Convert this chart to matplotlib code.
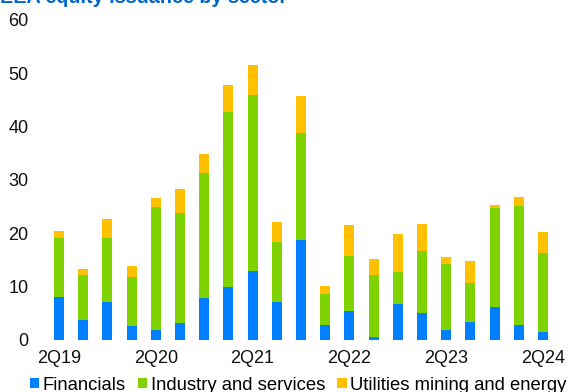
import matplotlib
matplotlib.use("Agg")
import matplotlib.pyplot as plt
import numpy as np

plt.rcParams['font.family'] = ['Liberation Sans', 'DejaVu Sans']

# quarters 2Q19 .. 2Q24
quarters = ['2Q19', '3Q19', '4Q19', '1Q20', '2Q20', '3Q20', '4Q20', '1Q21', '2Q21', '3Q21',
            '4Q21', '1Q22', '2Q22', '3Q22', '4Q22', '1Q23', '2Q23', '3Q23', '4Q23', '1Q24', '2Q24']
financials = [8.1, 3.7, 7.2, 2.6, 1.9, 3.2, 7.9, 10.0, 13.0, 7.2,
              18.8, 2.75, 5.5, 0.6, 6.75, 5.1, 1.9, 3.4, 6.25, 2.9, 1.5]
industry = [11.1, 8.4, 12.0, 9.2, 23.1, 20.7, 23.35, 32.7, 33.0, 11.2,
            19.95, 5.95, 10.3, 11.6, 6.05, 11.5, 12.4, 7.35, 18.55, 22.3, 14.9]
utilities = [1.3, 1.15, 3.4, 2.1, 1.6, 4.5, 3.65, 5.1, 5.6, 3.7,
             6.95, 1.4, 5.8, 3.05, 7.1, 5.15, 1.3, 4.15, 0.6, 1.7, 3.8]

c_fin = '#0080FF'
c_ind = '#7ED200'
c_util = '#FFC000'

fig = plt.figure(figsize=(5.76, 3.92), dpi=100)
W, H = 576, 392
ax = fig.add_axes([39.6 / W, 52 / H, (562.3 - 39.6) / W, 320 / H])

x = np.arange(len(quarters))
fin = np.array(financials)
ind = np.array(industry)
util = np.array(utilities)
bw = 0.41
ax.bar(x, fin, bw, color=c_fin, label='Financials')
ax.bar(x, ind, bw, bottom=fin, color=c_ind, label='Industry and services')
ax.bar(x, util, bw, bottom=fin + ind, color=c_util, label='Utilities mining and energy')

ax.set_xlim(-0.8, 20.8)
ax.set_ylim(0, 60)
ax.set_yticks(range(0, 61, 10))
ax.set_xticks(x[::4])
ax.set_xticklabels(quarters[::4])
ax.tick_params(axis='both', length=0, labelsize=13, colors='#111111')
ax.tick_params(axis='y', pad=8)
ax.tick_params(axis='x', pad=7)
for s in ax.spines.values():
    s.set_visible(False)

# title sits mostly above the image edge, like the source
fig.text(0.0, 1 - 3 / H, 'EEA equity issuance by sector', fontsize=14.2, fontweight='bold',
         color='#0066CC', ha='left', va='baseline')

fig.legend(loc='center left', bbox_to_anchor=(30 / W, 1 - 385 / H), ncol=3, frameon=False,
           fontsize=13.3, handlelength=0.5, handleheight=0.5, handletextpad=0.2,
           columnspacing=0.65, borderaxespad=0, borderpad=0)

fig.savefig('out.png', dpi=100)
